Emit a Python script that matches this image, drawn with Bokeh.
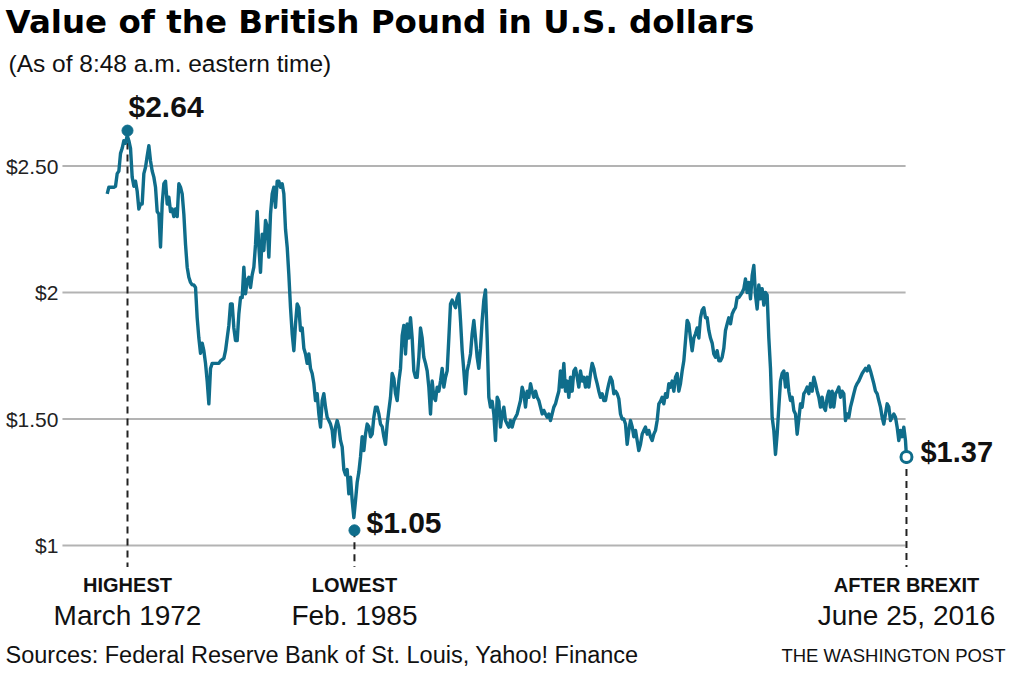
import numpy as np
from bokeh.plotting import figure
from bokeh.models import Label, Range1d
from bokeh.core.properties import value
from bokeh.embed import file_html
from bokeh.resources import INLINE

# ---- data (GBP in USD) ----
pound_values = [
    2.39, 2.416, 2.416, 2.416, 2.416, 2.42, 2.47, 2.48, 2.55, 2.57,
    2.60, 2.59, 2.62, 2.60, 2.57, 2.456, 2.42, 2.44, 2.40, 2.33,
    2.35, 2.35, 2.47, 2.495, 2.54, 2.58, 2.52, 2.48, 2.456, 2.416,
    2.32, 2.31, 2.18, 2.35, 2.43, 2.44, 2.35, 2.377, 2.32, 2.33,
    2.30, 2.33, 2.30, 2.43, 2.416, 2.39, 2.31, 2.19, 2.10, 2.06,
    2.04, 2.03, 2.03, 2.02, 1.90, 1.82, 1.76, 1.80, 1.77, 1.72,
    1.65, 1.56, 1.70, 1.72, 1.72, 1.72, 1.72, 1.72, 1.73, 1.735,
    1.74, 1.77, 1.82, 1.87, 1.955, 1.955, 1.86, 1.81, 1.81, 1.916,
    1.98, 1.98, 2.10, 1.995, 2.047, 2.06, 2.02, 2.07, 2.10, 2.19,
    2.32, 2.18, 2.08, 2.23, 2.166, 2.285, 2.26, 2.14, 2.31, 2.39,
    2.416, 2.337, 2.44, 2.44, 2.416, 2.43, 2.39, 2.25, 2.18, 2.07,
    1.94, 1.837, 1.77, 1.876, 1.955, 1.94, 1.85, 1.86, 1.78, 1.757,
    1.72, 1.757, 1.70, 1.68, 1.64, 1.573, 1.60, 1.52, 1.468, 1.573,
    1.60, 1.547, 1.507, 1.494, 1.48, 1.455, 1.39, 1.468, 1.494, 1.468,
    1.415, 1.39, 1.30, 1.28, 1.30, 1.204, 1.27, 1.178, 1.11, 1.178,
    1.25, 1.29, 1.35, 1.43, 1.375, 1.44, 1.48, 1.47, 1.43, 1.44,
    1.507, 1.547, 1.547, 1.52, 1.48, 1.47, 1.43, 1.40, 1.48, 1.534,
    1.586, 1.68, 1.66, 1.60, 1.573, 1.65, 1.70, 1.83, 1.87, 1.757,
    1.876, 1.82, 1.90, 1.82, 1.69, 1.665, 1.665, 1.744, 1.86, 1.82,
    1.744, 1.72, 1.69, 1.626, 1.52, 1.65, 1.586, 1.573, 1.626, 1.61,
    1.65, 1.70, 1.626, 1.665, 1.69, 1.82, 1.955, 1.97, 1.955, 1.94,
    1.98, 1.995, 1.89, 1.77, 1.69, 1.60, 1.69, 1.72, 1.757, 1.837,
    1.89, 1.82, 1.744, 1.70, 1.78, 1.89, 1.97, 2.01, 1.82, 1.586,
    1.547, 1.57, 1.52, 1.415, 1.586, 1.57, 1.468, 1.52, 1.547, 1.494,
    1.48, 1.468, 1.494, 1.468, 1.494, 1.507, 1.52, 1.547, 1.573, 1.626,
    1.60, 1.547, 1.61, 1.586, 1.64, 1.61, 1.586, 1.61, 1.586, 1.573,
    1.547, 1.52, 1.534, 1.52, 1.507, 1.52, 1.494, 1.52, 1.547, 1.56,
    1.586, 1.61, 1.69, 1.626, 1.72, 1.61, 1.65, 1.586, 1.665, 1.61,
    1.69, 1.70, 1.665, 1.626, 1.69, 1.65, 1.665, 1.626, 1.665, 1.626,
    1.68, 1.72, 1.70, 1.665, 1.64, 1.61, 1.586, 1.60, 1.573, 1.573,
    1.61, 1.64, 1.665, 1.65, 1.60, 1.61, 1.60, 1.58, 1.52, 1.50,
    1.50, 1.48, 1.40, 1.455, 1.494, 1.47, 1.43, 1.455, 1.415, 1.375,
    1.40, 1.44, 1.455, 1.468, 1.44, 1.455, 1.43, 1.415, 1.44, 1.455,
    1.494, 1.56, 1.57, 1.586, 1.56, 1.60, 1.586, 1.64, 1.626, 1.65,
    1.61, 1.665, 1.68, 1.61, 1.64, 1.69, 1.73, 1.81, 1.89, 1.876,
    1.82, 1.77, 1.82, 1.837, 1.86, 1.82, 1.90, 1.93, 1.94, 1.90,
    1.90, 1.85, 1.82, 1.80, 1.757, 1.744, 1.77, 1.73, 1.73, 1.744,
    1.78, 1.85, 1.876, 1.90, 1.876, 1.915, 1.93, 1.94, 1.98, 1.98,
    1.99, 2.00, 2.015, 2.054, 2.00, 2.04, 1.975, 2.067, 2.107, 1.99,
    1.935, 2.03, 1.975, 2.015, 1.95, 2.00, 1.99, 1.82, 1.70, 1.507,
    1.455, 1.36, 1.44, 1.547, 1.65, 1.68, 1.69, 1.626, 1.68, 1.61,
    1.573, 1.586, 1.534, 1.52, 1.44, 1.50, 1.56, 1.547, 1.60, 1.61,
    1.626, 1.60, 1.64, 1.61, 1.665, 1.64, 1.61, 1.586, 1.547, 1.586,
    1.547, 1.534, 1.586, 1.61, 1.547, 1.61, 1.547, 1.60, 1.61, 1.626,
    1.586, 1.61, 1.60, 1.494, 1.52, 1.507, 1.547, 1.573, 1.60, 1.626,
    1.64, 1.65, 1.665, 1.68, 1.69, 1.70, 1.69, 1.71, 1.69, 1.665,
    1.64, 1.61, 1.60, 1.573, 1.547, 1.507, 1.48, 1.52, 1.56, 1.547,
    1.494, 1.507, 1.52, 1.507, 1.468, 1.415, 1.455, 1.43, 1.468, 1.415,
]
# evenly spaced sample dates (decimal years), Jan 1971 .. early June 2016
first_date, last_sample_date = 1971.015, 2016.424
sample_dates = list(np.linspace(first_date, last_sample_date, len(pound_values)))

# highlighted points
peak_date, peak_value = 1972.17, 2.64      # March 1972
low_date, low_value = 1985.08, 1.06        # Feb. 1985
brexit_date, brexit_value = 2016.48, 1.35  # June 25, 2016

dates = sample_dates + [brexit_date]
values = pound_values + [brexit_value]

y_ticks = [1, 1.5, 2, 2.5]
y_tick_labels = ["$1", "$1.50", "$2", "$2.50"]

value_labels = ["$2.64", "$1.05", "$1.37"]
event_kinds = ["HIGHEST", "LOWEST", "AFTER BREXIT"]
event_dates_text = ["March 1972", "Feb. 1985", "June 25, 2016"]

title_text = "Value of the British Pound in U.S. dollars"
subtitle_text = "(As of 8:48 a.m. eastern time)"
source_text = "Sources: Federal Reserve Bank of St. Louis, Yahoo! Finance"
credit_text = "THE WASHINGTON POST"

# ---- layout / style ----
X_START, X_END = 1964.946, 2022.284
Y_START, Y_END = 0.5178, 3.1542
GRID_START, GRID_END = 1968.47, 2016.43
DASH_BOTTOM = 0.915
ROW1, ROW2 = 0.842, 0.722
TITLE_Y, SUBTITLE_Y, FOOT_Y = 3.071, 2.905, 0.566
LINE_COLOR = "#0f6d8b"
TEXT = "#111111"
SANS = "Liberation Sans"

p = figure(width=1008, height=667,
           x_range=Range1d(X_START, X_END), y_range=Range1d(Y_START, Y_END),
           x_axis_location=None, y_axis_location=None,
           toolbar_location=None, output_backend="svg",
           min_border_left=0, min_border_right=0, min_border_top=0, min_border_bottom=0,
           outline_line_color=None, background_fill_color="white", border_fill_color="white")
p.grid.visible = False

# y tick labels and grid lines (grid stops at the last date)
p.text(x=[GRID_START] * len(y_ticks), y=y_ticks, text=y_tick_labels, x_offset=-4,
       text_font=value(SANS), text_font_size="21px", text_color="#222222",
       text_align="right", text_baseline="middle")
p.segment(x0=[GRID_START] * len(y_ticks), x1=[GRID_END] * len(y_ticks), y0=y_ticks, y1=y_ticks,
          line_color="#b3b3b3", line_width=2)

# dashed drop lines
ev_dates = [peak_date, low_date, brexit_date]
ev_values = [peak_value, low_value, brexit_value]
p.segment(x0=ev_dates, x1=ev_dates, y0=ev_values, y1=[DASH_BOTTOM] * 3,
          line_color="#222222", line_width=2, line_dash="7 5")

# main series
p.line(dates, values, line_color=LINE_COLOR, line_width=3.4, line_join="round")

# markers
p.scatter([peak_date, low_date], [peak_value, low_value], size=11,
          fill_color=LINE_COLOR, line_color=LINE_COLOR)
p.scatter([brexit_date], [brexit_value], size=11, fill_color="white",
          line_color=LINE_COLOR, line_width=3)

# value labels (vertically centred)
for txt, xx, yy, dx, fs in zip(value_labels,
                               [peak_date, low_date, brexit_date],
                               [peak_value + 0.095, low_value + 0.031, brexit_value + 0.0215],
                               [1, 12, 14],
                               ["30px", "30px", "29px"]):
    p.add_layout(Label(x=xx, y=yy, x_offset=dx, text=txt, text_font=SANS,
                       text_font_style="bold", text_font_size=fs,
                       text_color=TEXT, text_align="left", text_baseline="middle"))

# bottom event labels
for kind, dtxt, xx in zip(event_kinds, event_dates_text, ev_dates):
    p.add_layout(Label(x=xx, y=ROW1, text=kind, text_font=SANS, text_font_style="bold",
                       text_font_size="20px", text_color=TEXT, text_align="center",
                       text_baseline="middle"))
    p.add_layout(Label(x=xx, y=ROW2, text=dtxt, text_font=SANS, text_font_size="28px",
                       text_color=TEXT, text_align="center", text_baseline="middle"))

# title, subtitle, source, credit
p.add_layout(Label(x=X_START, x_offset=5, y=TITLE_Y, text=title_text,
                   text_font="DejaVu Sans", text_font_style="bold", text_font_size="32.5px",
                   text_color="#000000", text_align="left", text_baseline="middle"))
p.add_layout(Label(x=X_START, x_offset=8, y=SUBTITLE_Y, text=subtitle_text,
                   text_font=SANS, text_font_size="24.5px", text_color=TEXT,
                   text_align="left", text_baseline="middle"))
p.add_layout(Label(x=X_START, x_offset=5, y=FOOT_Y, text=source_text,
                   text_font=SANS, text_font_size="23.5px", text_color=TEXT,
                   text_align="left", text_baseline="middle"))
p.add_layout(Label(x=X_END, x_offset=-3, y=FOOT_Y, text=credit_text,
                   text_font=SANS, text_font_size="18.5px", text_color=TEXT,
                   text_align="right", text_baseline="middle"))

open("out.html", "w").write(file_html(p, INLINE))
